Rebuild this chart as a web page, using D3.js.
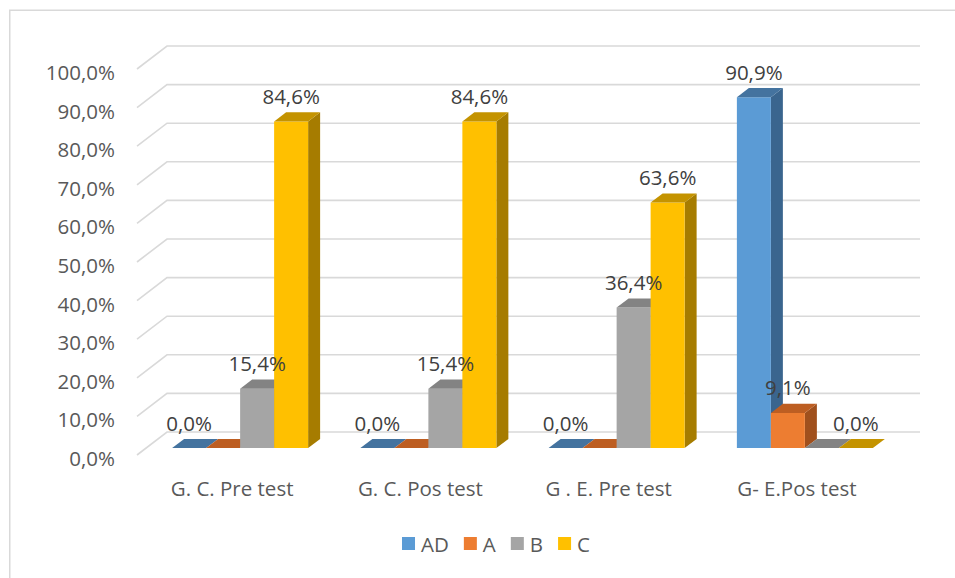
<!DOCTYPE html>
<html>
<head>
<meta charset="utf-8">
<script src="https://cdn.jsdelivr.net/npm/d3@7/dist/d3.min.js"></script>
<style>
  html, body { margin: 0; padding: 0; background: #ffffff; }
  svg { display: block; font-family: "Open Sans", "Noto Sans", sans-serif; }
</style>
</head>
<body>
<svg id="chart" width="955" height="578"></svg>
<script>
// Groups along the horizontal axis
const categories = ["G. C. Pre test", "G. C. Pos test", "G . E. Pre test", "G- E.Pos test"];
// Series (grade levels)
const seriesNames = ["AD", "A", "B", "C"];
// Share of students per series, one value per group
const valuesAD = [0.0, 0.0, 0.0, 0.909];
const valuesA  = [0.0, 0.0, 0.0, 0.091];
const valuesB  = [0.154, 0.154, 0.364, 0.0];
const valuesC  = [0.846, 0.846, 0.636, 0.0];
// Which value labels are printed
const labelsAD = [true, true, true, true];
const labelsA  = [false, false, false, true];
const labelsB  = [true, true, true, false];
const labelsC  = [true, true, true, true];
// Vertical axis ticks
const yTicks = [0, 0.1, 0.2, 0.3, 0.4, 0.5, 0.6, 0.7, 0.8, 0.9, 1.0];

const seriesValues = [valuesAD, valuesA, valuesB, valuesC];
const seriesLabels = [labelsAD, labelsA, labelsB, labelsC];

// face colours: front, top, side
const palette = [
  { front: "#5B9BD5", top: "#44739F", side: "#3A658E" },
  { front: "#ED7D31", top: "#BD5E22", side: "#A0501D" },
  { front: "#A5A5A5", top: "#838383", side: "#707070" },
  { front: "#FFC000", top: "#C49300", side: "#A67C00" }
];

const svg = d3.select("#chart");

const locale = d3.formatLocale({ decimal: ",", thousands: ".", grouping: [3], currency: ["", "€"] });
const pct = locale.format(".1%");

// Oblique projection: front plane + depth offset towards the back wall
const frontLeft = 137, frontRight = 890;
const depthDX = 30, depthDY = -23;
const y = d3.scaleLinear().domain([0, 1]).range([455, 69]);
const x0 = d3.scaleBand().domain(categories).range([frontLeft, frontRight])
  .paddingInner(0.2776).paddingOuter(0.1388);
const x1 = d3.scaleBand().domain(seriesNames).range([0, x0.bandwidth()]);
const barDepth = [0.3, 0.7];

function P(px, v, f) { return [px + depthDX * f, y(v) + depthDY * f]; }
const poly = pts => "M" + pts.map(p => p.join(",")).join("L") + "Z";

// chart area border
svg.append("rect")
  .attr("x", 9.75).attr("y", 10.25).attr("width", 1000).attr("height", 1000)
  .attr("fill", "none").attr("stroke", "#D9D9D9").attr("stroke-width", 1.5);

// gridlines on the back wall and the side wall
const grid = svg.append("g").attr("stroke", "#D9D9D9").attr("stroke-width", 1.6).attr("fill", "none");
yTicks.forEach(t => {
  const a = P(frontLeft, t, 0), b = P(frontLeft, t, 1), c = P(frontRight, t, 1);
  grid.append("path").attr("d", "M" + a + "L" + b + "L" + c);
});

// vertical axis labels
svg.append("g").selectAll("text").data(yTicks).join("text")
  .attr("x", 115).attr("y", d => y(d) + 3)
  .attr("text-anchor", "end").attr("dominant-baseline", "central")
  .attr("fill", "#595959").attr("font-size", 20.5)
  .text(d => pct(d));

// category labels
svg.append("g").selectAll("text").data(categories).join("text")
  .attr("x", d => x0(d) + x0.bandwidth() / 2 + 1)
  .attr("y", 488)
  .attr("text-anchor", "middle").attr("dominant-baseline", "central")
  .attr("fill", "#595959").attr("font-size", 20.5)
  .text(d => d);

// bars, drawn left to right so each bar covers the side of its neighbour
const bars = svg.append("g");
categories.forEach((cat, ci) => {
  seriesNames.forEach((s, si) => {
    const v = seriesValues[si][ci];
    const xa = x0(cat) + x1(s), xb = xa + x1.bandwidth();
    const [f0, f1] = barDepth;
    const col = palette[si];
    const g = bars.append("g");
    if (v > 0) {
      g.append("path").attr("fill", col.side)
        .attr("d", poly([P(xb, 0, f0), P(xb, 0, f1), P(xb, v, f1), P(xb, v, f0)]));
      g.append("path").attr("fill", col.front)
        .attr("d", poly([P(xa, 0, f0), P(xb, 0, f0), P(xb, v, f0), P(xa, v, f0)]));
    }
    g.append("path").attr("fill", col.top)
      .attr("d", poly([P(xa, v, f0), P(xb, v, f0), P(xb, v, f1), P(xa, v, f1)]));
  });
});

// value labels
const labels = svg.append("g");
categories.forEach((cat, ci) => {
  seriesNames.forEach((s, si) => {
    if (!seriesLabels[si][ci]) return;
    const v = seriesValues[si][ci];
    const cx = x0(cat) + x1(s) + x1.bandwidth() / 2 + depthDX * barDepth[0];
    const cy = y(v) + depthDY * barDepth[0] - 25.5;
    labels.append("text")
      .attr("x", cx).attr("y", cy)
      .attr("text-anchor", "middle").attr("dominant-baseline", "central")
      .attr("fill", "#404040").attr("font-size", 20.5)
      .text(pct(v));
  });
});

// legend
const legend = svg.append("g");
let lx = 0;
seriesNames.forEach((s, si) => {
  const it = legend.append("g").attr("transform", `translate(${lx},0)`);
  it.append("rect").attr("x", 0).attr("y", -7).attr("width", 13).attr("height", 13)
    .attr("fill", palette[si].front);
  const t = it.append("text").attr("x", 19).attr("y", 0)
    .attr("dominant-baseline", "central").attr("fill", "#595959").attr("font-size", 20.5)
    .text(s);
  lx += 19 + t.node().getComputedTextLength() + 15;
});
const legendWidth = lx - 15;
legend.attr("transform", `translate(${496 - legendWidth / 2},544)`);
</script>
</body>
</html>
